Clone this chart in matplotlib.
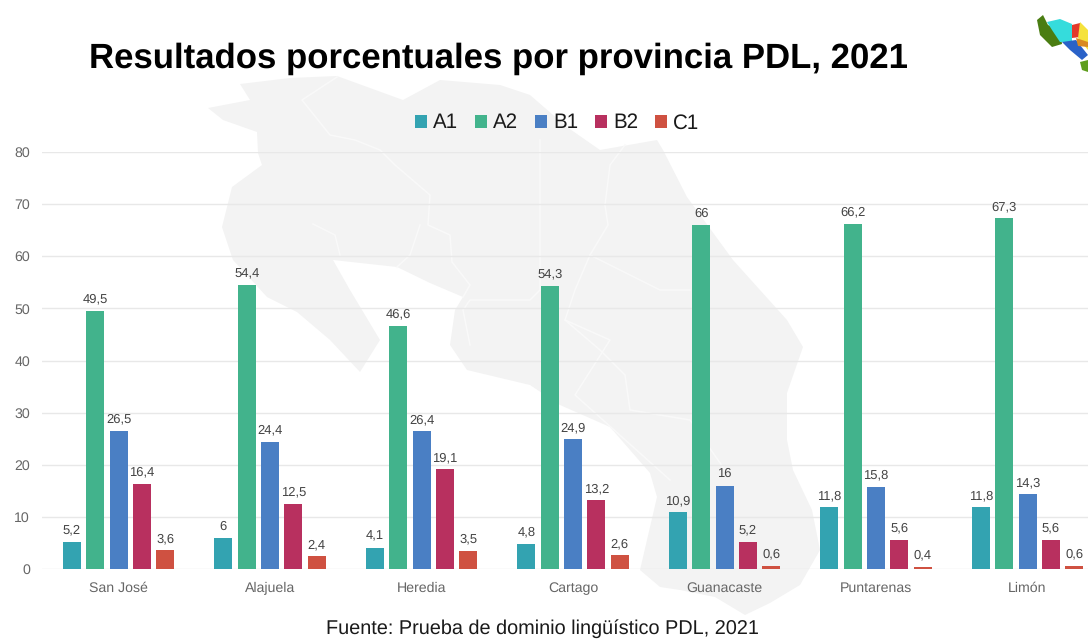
import numpy as np
import matplotlib
matplotlib.use("Agg")
import matplotlib.pyplot as plt
from matplotlib.patches import Polygon

plt.rcParams["font.family"] = ["Liberation Sans", "DejaVu Sans"]
plt.rcParams["text.hinting"] = "no_hinting"

provincias = ["San José", "Alajuela", "Heredia", "Cartago", "Guanacaste", "Puntarenas", "Limón"]
niveles = ["A1", "A2", "B1", "B2", "C1"]
a1 = [5.2, 6, 4.1, 4.8, 10.9, 11.8, 11.8]
a2 = [49.5, 54.4, 46.6, 54.3, 66, 66.2, 67.3]
b1 = [26.5, 24.4, 26.4, 24.9, 16, 15.8, 14.3]
b2 = [16.4, 12.5, 19.1, 13.2, 5.2, 5.6, 5.6]
c1 = [3.6, 2.4, 3.5, 2.6, 0.6, 0.4, 0.6]
series = [a1, a2, b1, b2, c1]
colores = ["#33a3b1", "#42b38c", "#4a7fc4", "#b8305f", "#cf5141"]

W, H = 1088, 639

# background map of the country, traced in pixels
MAPA = [(240, 84), (290, 78), (337, 76), (403, 100), (440, 80), (500, 85), (530, 95),
        (567, 127), (600, 150), (657, 140), (663, 150), (687, 197), (733, 260),
        (787, 320), (803, 347), (787, 393), (787, 440), (793, 470), (812, 510),
        (820, 550), (800, 585), (770, 603), (745, 615), (715, 597), (680, 590),
        (660, 587), (640, 570), (657, 497), (650, 473), (610, 427), (560, 405),
        (530, 385), (467, 370), (450, 345), (455, 310), (463, 297), (430, 283),
        (397, 267), (333, 260), (350, 290), (368, 320), (380, 340), (360, 372),
        (330, 340), (297, 312), (267, 297), (233, 260), (222, 227), (232, 187),
        (262, 165), (258, 153), (257, 132), (223, 120), (208, 108), (250, 100)]
LINEAS = [[(337, 77), (302, 100), (330, 135), (355, 140), (380, 150), (395, 165),
           (430, 195), (428, 225), (450, 235), (452, 262), (470, 285), (463, 297)],
          [(313, 224), (335, 235), (340, 255)],
          [(420, 225), (410, 255), (397, 267)],
          [(540, 140), (540, 290), (530, 300), (470, 300), (463, 310), (470, 345)],
          [(625, 145), (610, 165), (605, 205), (608, 225), (590, 255), (575, 290),
           (565, 320), (600, 350), (625, 375), (630, 410), (690, 420), (725, 470)],
          [(590, 255), (660, 290), (690, 290)],
          [(565, 320), (610, 340), (575, 395), (670, 480)]]

# little coloured map in the corner
LOGO = [("#4a7d12", [(1037, 20), (1043, 15), (1048, 25), (1060, 30), (1062, 44), (1052, 47), (1040, 35)]),
        ("#35dcdc", [(1047, 22), (1060, 19), (1072, 24), (1072, 42), (1060, 42), (1052, 30)]),
        ("#e33a2a", [(1072, 25), (1080, 23), (1080, 37), (1072, 38)]),
        ("#f5e23c", [(1080, 22), (1088, 30), (1088, 50), (1078, 38)]),
        ("#2a62c8", [(1062, 42), (1076, 40), (1088, 55), (1082, 60), (1070, 50)]),
        ("#d98a22", [(1076, 38), (1088, 42), (1088, 47), (1078, 46)]),
        ("#5f9e1e", [(1080, 62), (1088, 60), (1088, 72), (1082, 70)])]

fig = plt.figure(figsize=(W / 100, H / 100), dpi=100, facecolor="white")

bg = fig.add_axes([0, 0, 1, 1], zorder=0)
bg.set_xlim(0, W); bg.set_ylim(H, 0); bg.axis("off")
bg.add_patch(Polygon(MAPA, closed=True, facecolor="#f3f3f3", edgecolor="none"))
for ln in LINEAS:
    bg.plot(*zip(*ln), color="#f9f9f9", lw=1.1)
for col, pts in LOGO:
    bg.add_patch(Polygon(pts, closed=True, facecolor=col, edgecolor="none"))

ax = fig.add_axes([42 / W, 1 - 569 / H, (W - 42) / W, (569 - 152) / H], zorder=1)
ax.patch.set_alpha(0)

x = np.arange(len(provincias))
paso = 23.3 / 151.5
ancho = 18 / 151.5
for i, (nivel, vals, col) in enumerate(zip(niveles, series, colores)):
    bars = ax.bar(x + (i - 2) * paso, vals, ancho, color=col, label=nivel, zorder=3)
    ax.bar_label(bars, labels=[str(v).replace(".", ",") for v in vals], padding=4,
                 fontsize=9.4, color="#444444", zorder=4)

ax.set_xlim(-(118.5 - 42) / 151.5, (W - 118.5) / 151.5)
ax.set_ylim(0, 80)
ax.set_yticks(range(0, 81, 10))
ax.set_xticks(x, provincias)
ax.tick_params(axis="both", length=0, labelcolor="#666666", labelsize=10.2)
ax.tick_params(axis="x", pad=9)
ax.tick_params(axis="y", pad=8.6)
ax.yaxis.grid(True, color="#e8e8e8", lw=1, zorder=1)
ax.set_axisbelow(True)
for s in ax.spines.values():
    s.set_visible(False)

fig.legend(loc="center", bbox_to_anchor=(557 / W, 1 - 123 / H), ncol=5, frameon=False,
           fontsize=14.8, handlelength=0.6, handleheight=0.6, handletextpad=0.3,
           columnspacing=0.8, labelcolor="#1a1a1a")

fig.text(498 / W, 1 - 59 / H, "Resultados porcentuales por provincia PDL, 2021",
         ha="center", va="center", fontsize=25, fontweight="bold", color="black")
fig.text(542 / W, 1 - 629 / H, "Fuente: Prueba de dominio lingüístico PDL, 2021",
         ha="center", va="center", fontsize=14.3, color="#1a1a1a")

fig.savefig("out.png", dpi=100)
